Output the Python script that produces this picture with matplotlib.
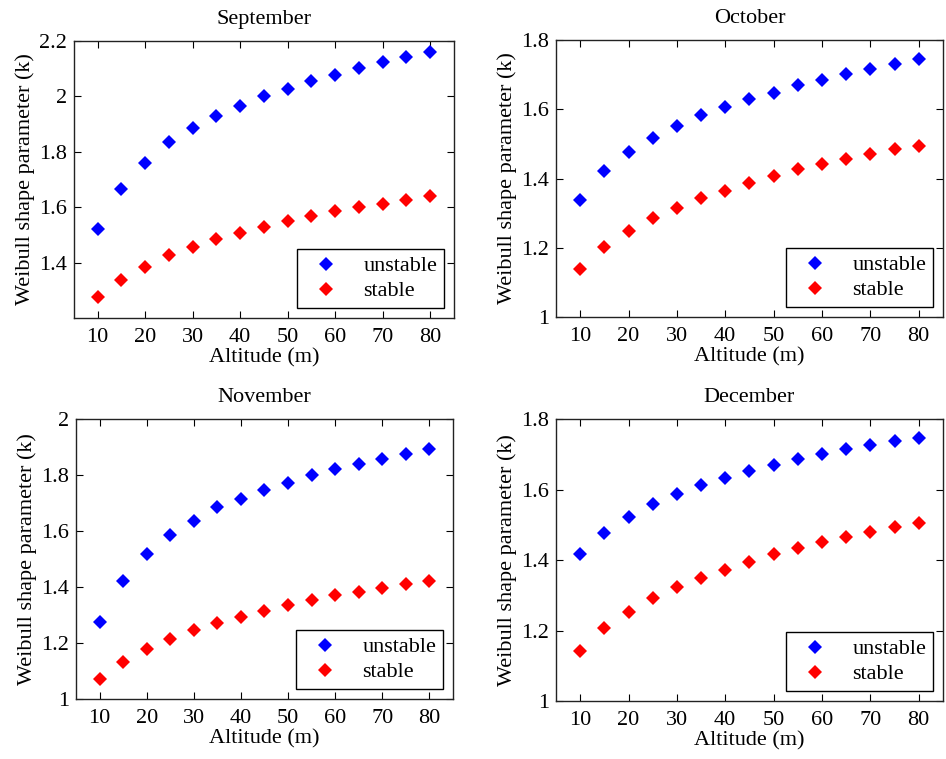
import matplotlib
matplotlib.use('Agg')
import matplotlib.pyplot as plt

# --- data ---
altitude = [10, 15, 20, 25, 30, 35, 40, 45, 50, 55, 60, 65, 70, 75, 80]
months = ['September', 'October', 'November', 'December']

sep_unstable = [1.521, 1.667, 1.761, 1.835, 1.886, 1.931, 1.967, 2.000, 2.028, 2.055, 2.078, 2.101, 2.124, 2.142, 2.160]
sep_stable = [1.275, 1.339, 1.384, 1.427, 1.457, 1.484, 1.508, 1.530, 1.549, 1.567, 1.585, 1.600, 1.613, 1.627, 1.640]

oct_unstable = [1.339, 1.423, 1.478, 1.518, 1.553, 1.582, 1.607, 1.629, 1.647, 1.669, 1.684, 1.702, 1.716, 1.732, 1.744]
oct_stable = [1.138, 1.202, 1.249, 1.285, 1.314, 1.343, 1.364, 1.387, 1.408, 1.427, 1.441, 1.456, 1.470, 1.485, 1.495]

nov_unstable = [1.276, 1.423, 1.517, 1.584, 1.637, 1.684, 1.715, 1.746, 1.772, 1.799, 1.822, 1.839, 1.857, 1.875, 1.893]
nov_stable = [1.070, 1.133, 1.177, 1.214, 1.245, 1.271, 1.294, 1.316, 1.334, 1.352, 1.370, 1.383, 1.396, 1.410, 1.423]

dec_unstable = [1.417, 1.476, 1.523, 1.558, 1.586, 1.612, 1.633, 1.654, 1.671, 1.686, 1.701, 1.715, 1.725, 1.739, 1.747]
dec_stable = [1.142, 1.206, 1.252, 1.291, 1.323, 1.348, 1.373, 1.394, 1.416, 1.434, 1.451, 1.465, 1.479, 1.494, 1.505]

unstable = [sep_unstable, oct_unstable, nov_unstable, dec_unstable]
stable = [sep_stable, oct_stable, nov_stable, dec_stable]

y_limits = [(1.2, 2.2), (1.0, 1.8), (1.0, 2.0), (1.0, 1.8)]
y_ticks = [[1.4, 1.6, 1.8, 2.0, 2.2],
           [1.0, 1.2, 1.4, 1.6, 1.8],
           [1.0, 1.2, 1.4, 1.6, 1.8, 2.0],
           [1.0, 1.2, 1.4, 1.6, 1.8]]

# axes rectangles in figure fractions (left, bottom, width, height)
positions = [(0.0782, 0.581, 0.4017, 0.365),
             (0.5877, 0.5823, 0.409, 0.365),
             (0.0803, 0.079, 0.3985, 0.369),
             (0.5877, 0.0764, 0.409, 0.3715)]

plt.rcParams['font.family'] = ['Liberation Serif', 'DejaVu Serif']
plt.rcParams['font.size'] = 16

fig = plt.figure(figsize=(9.46, 7.59), dpi=100)

for i, month in enumerate(months):
    ax = fig.add_axes(positions[i])
    ax.plot(altitude, unstable[i], linestyle='none', marker='D', markersize=7,
            color='blue', markeredgewidth=0, label='unstable')
    ax.plot(altitude, stable[i], linestyle='none', marker='D', markersize=7,
            color='red', markeredgewidth=0, label='stable')

    ax.set_xlim(5, 85)
    ax.set_ylim(*y_limits[i])
    ax.set_xticks(altitude[::2])
    ax.set_yticks(y_ticks[i])
    ax.set_yticklabels([f'{v:g}' for v in y_ticks[i]])

    ax.tick_params(direction='in', top=True, right=True, length=5, width=0.8,
                   labelsize=16)
    ax.tick_params(axis='x', pad=7)
    ax.tick_params(axis='y', pad=5)
    for sp in ax.spines.values():
        sp.set_linewidth(1.0)
        sp.set_color('#222222')

    ax.set_title(month, fontsize=16, pad=12)
    ax.set_xlabel('Altitude (m)', fontsize=16, labelpad=1)
    ax.set_ylabel('Weibull shape parameter (k)', fontsize=16, labelpad=3)

    leg = ax.legend(loc='lower right', fontsize=16, frameon=True, fancybox=False,
                    edgecolor='black', framealpha=1, borderpad=0.3,
                    handlelength=2.0, handletextpad=0.7, labelspacing=0.2,
                    borderaxespad=0.45)
    leg.get_frame().set_linewidth(1.0)

plt.savefig('out.png', dpi=100)
